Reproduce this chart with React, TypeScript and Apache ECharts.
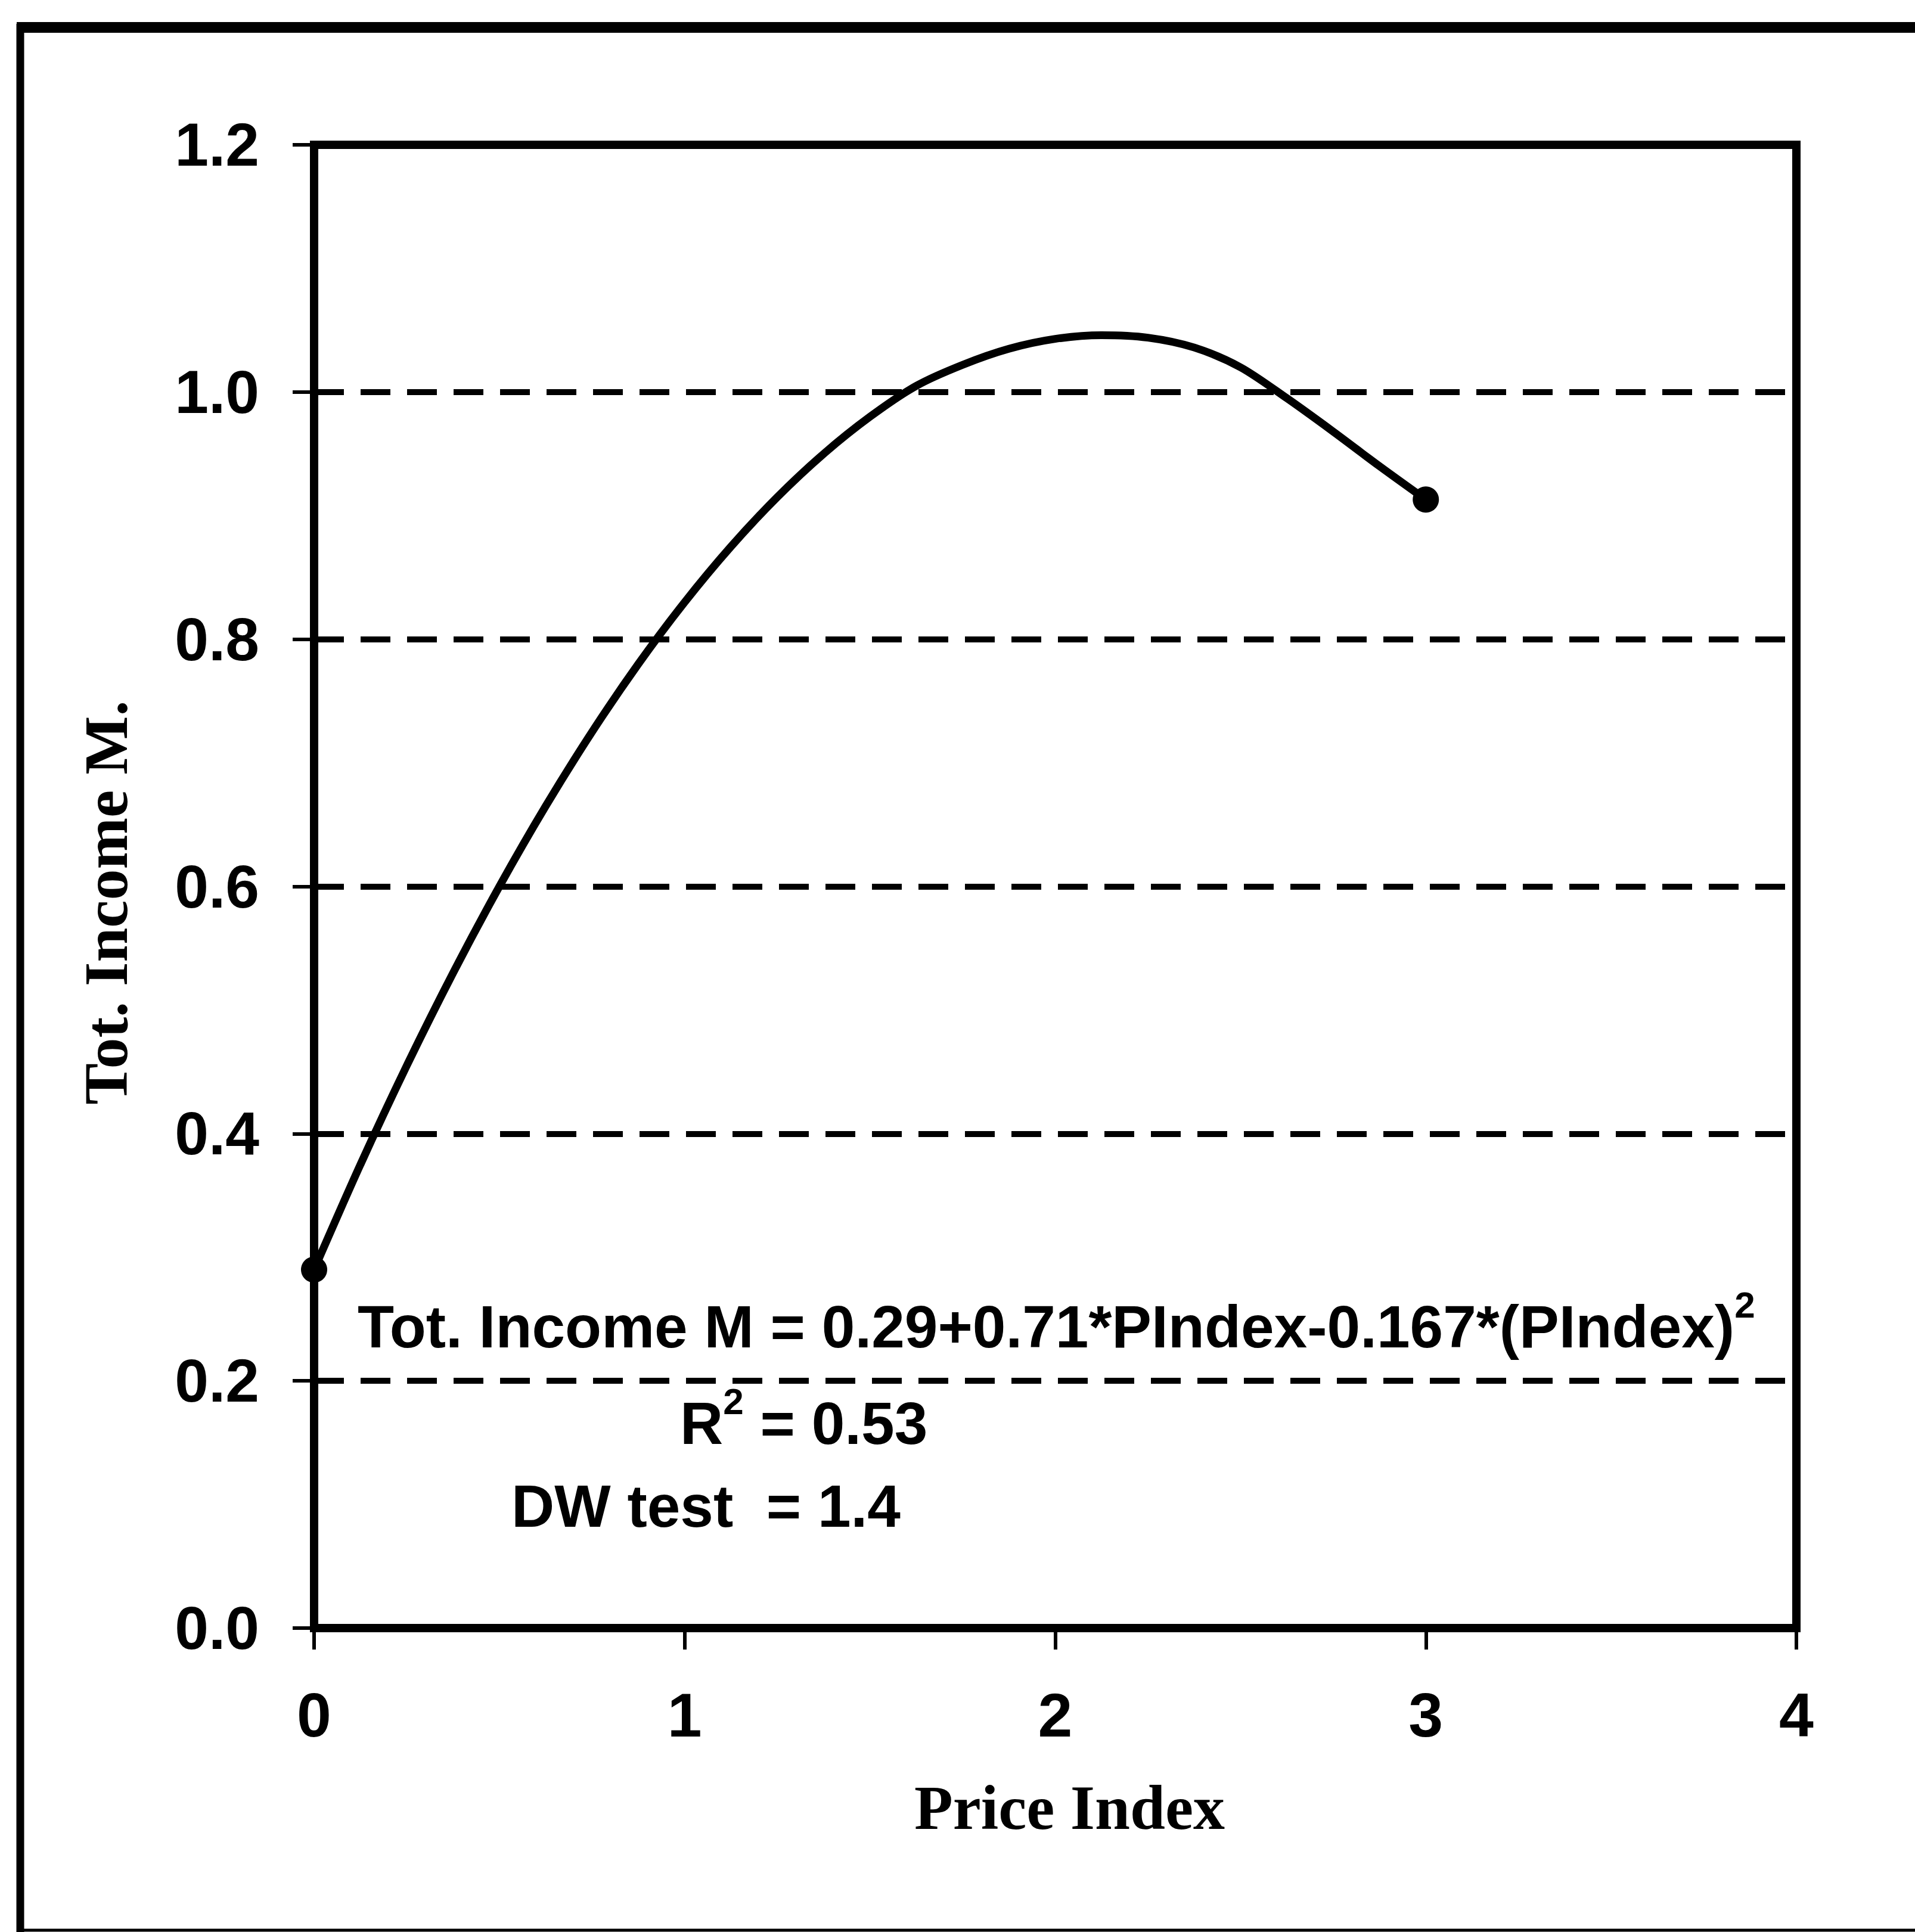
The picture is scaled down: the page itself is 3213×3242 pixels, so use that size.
import React, { useEffect, useRef } from "react";
import * as echarts from "echarts";

// Fitted curve of total income against the price index
const priceIndex = [
  0, 0.125, 0.25, 0.375, 0.5, 0.625, 0.75, 0.875, 1, 1.125, 1.25, 1.375, 1.5,
  1.625, 1.75, 1.875, 2, 2.125, 2.25, 2.375, 2.5, 2.625, 2.75, 2.875, 3,
];
const totIncome = [
  0.29, 0.375, 0.455, 0.53, 0.6, 0.665, 0.725, 0.78, 0.83, 0.875, 0.915, 0.95, 0.98,
  1.005, 1.022, 1.035, 1.043, 1.046, 1.044, 1.036, 1.02, 0.995, 0.968, 0.94, 0.913,
];

// Axis ranges and tick labels
const xRange = [0, 4];
const xStep = 1;
const yRange = [0, 1.2];
const yStep = 0.2;
const yTickLabels = ["0.0", "0.2", "0.4", "0.6", "0.8", "1.0", "1.2"];

// Axis titles and regression notes
const xTitle = "Price Index";
const yTitle = "Tot. Income M.";
const equationMain = "Tot. Income M = 0.29+0.71*PIndex-0.167*(PIndex)";
const rSquaredMain = "R";
const rSquaredRest = " = 0.53";
const dwText = "DW test  = 1.4";

const W = 3213;
const H = 3242;
const SANS = '"Liberation Sans", Arial, sans-serif';
const SERIF = '"Liberation Serif", "Times New Roman", serif';

export default function App() {
  const ref = useRef<HTMLDivElement>(null);

  useEffect(() => {
    if (!ref.current) return;
    const chart = echarts.init(ref.current, null, { renderer: "svg", width: W, height: H });

    const last = priceIndex.length - 1;
    const lineData = priceIndex.map((x, i) => ({
      value: [x, totIncome[i]],
      symbol: i === 0 || i === last ? "circle" : "none",
    }));

    const noteRich = {
      m: { fontFamily: SANS, fontWeight: "bold" as const, fontSize: 100, lineHeight: 136, fill: "#000", color: "#000" },
      s: { fontFamily: SANS, fontWeight: "bold" as const, fontSize: 62, lineHeight: 62, verticalAlign: "top" as const, fill: "#000", color: "#000" },
    };

    chart.setOption({
      animation: false,
      backgroundColor: "#fff",
      grid: {
        left: 527,
        top: 243,
        right: W - 3014,
        bottom: H - 2732,
        show: true,
        borderColor: "#000",
        borderWidth: 14,
        backgroundColor: "transparent",
        containLabel: false,
      },
      xAxis: {
        type: "value",
        min: xRange[0],
        max: xRange[1],
        interval: xStep,
        name: xTitle,
        nameLocation: "middle",
        nameGap: 248,
        nameTextStyle: {
          fontFamily: SERIF,
          fontWeight: "bold",
          fontSize: 106,
          color: "#000",
          padding: [0, 0, 0, 48],
        },
        axisLine: { show: true, onZero: false, lineStyle: { color: "#000", width: 14 } },
        axisTick: { show: true, length: 36, lineStyle: { color: "#000", width: 6 } },
        axisLabel: {
          margin: 94,
          fontFamily: SANS,
          fontWeight: "bold",
          fontSize: 104,
          color: "#000",
        },
        splitLine: { show: false },
      },
      yAxis: {
        type: "value",
        min: yRange[0],
        max: yRange[1],
        interval: yStep,
        name: yTitle,
        nameLocation: "middle",
        nameRotate: 90,
        nameGap: 298,
        nameTextStyle: {
          fontFamily: SERIF,
          fontWeight: "bold",
          fontSize: 104,
          color: "#000",
          padding: [0, 54, 0, 0],
        },
        axisLine: { show: true, onZero: false, lineStyle: { color: "#000", width: 14 } },
        axisTick: { show: true, length: 36, lineStyle: { color: "#000", width: 6 } },
        axisLabel: {
          margin: 92,
          fontFamily: SANS,
          fontWeight: "bold",
          fontSize: 102,
          color: "#000",
          padding: [0, 0, 34, 0],
          formatter: (v: number) => yTickLabels[Math.round(v / yStep)] ?? v.toFixed(1),
        },
        splitLine: {
          show: true,
          lineStyle: { color: "#000", width: 10, type: [50, 28] },
        },
      },
      series: [
        {
          type: "line",
          data: lineData,
          smooth: 0.3,
          symbolSize: 44,
          showSymbol: true,
          lineStyle: { color: "#000", width: 13 },
          itemStyle: { color: "#000", borderWidth: 0 },
          z: 5,
        },
      ],
      graphic: [
        // outer frame
        {
          type: "line",
          shape: { x1: 34, y1: 40, x2: 34, y2: H },
          style: { stroke: "#000", lineWidth: 13 },
          silent: true,
        },
        {
          type: "line",
          shape: { x1: 28, y1: 46, x2: W, y2: 46 },
          style: { stroke: "#000", lineWidth: 18 },
          silent: true,
        },
        {
          type: "line",
          shape: { x1: 28, y1: 3239, x2: W, y2: 3239 },
          style: { stroke: "#000", lineWidth: 5 },
          silent: true,
        },
        // regression notes
        {
          type: "text",
          x: 600,
          y: 2226,
          z: 10,
          style: {
            text: `{m|${equationMain}}{s|2}`,
            rich: noteRich,
            textAlign: "left",
            textVerticalAlign: "middle",
            fill: "#000",
          },
        },
        {
          type: "text",
          x: 1141,
          y: 2388,
          z: 10,
          style: {
            text: `{m|${rSquaredMain}}{s|2}{m|${rSquaredRest}}`,
            rich: noteRich,
            textAlign: "left",
            textVerticalAlign: "middle",
            fill: "#000",
          },
        },
        {
          type: "text",
          x: 858,
          y: 2527,
          z: 10,
          style: {
            text: dwText,
            font: `bold 100px ${SANS}`,
            textAlign: "left",
            textVerticalAlign: "middle",
            fill: "#000",
          },
        },
      ],
    });

    return () => {
      chart.dispose();
    };
  }, []);

  return (
    <div
      ref={ref}
      style={{ position: "absolute", left: 0, top: 0, width: W, height: H, background: "#fff" }}
    />
  );
}
